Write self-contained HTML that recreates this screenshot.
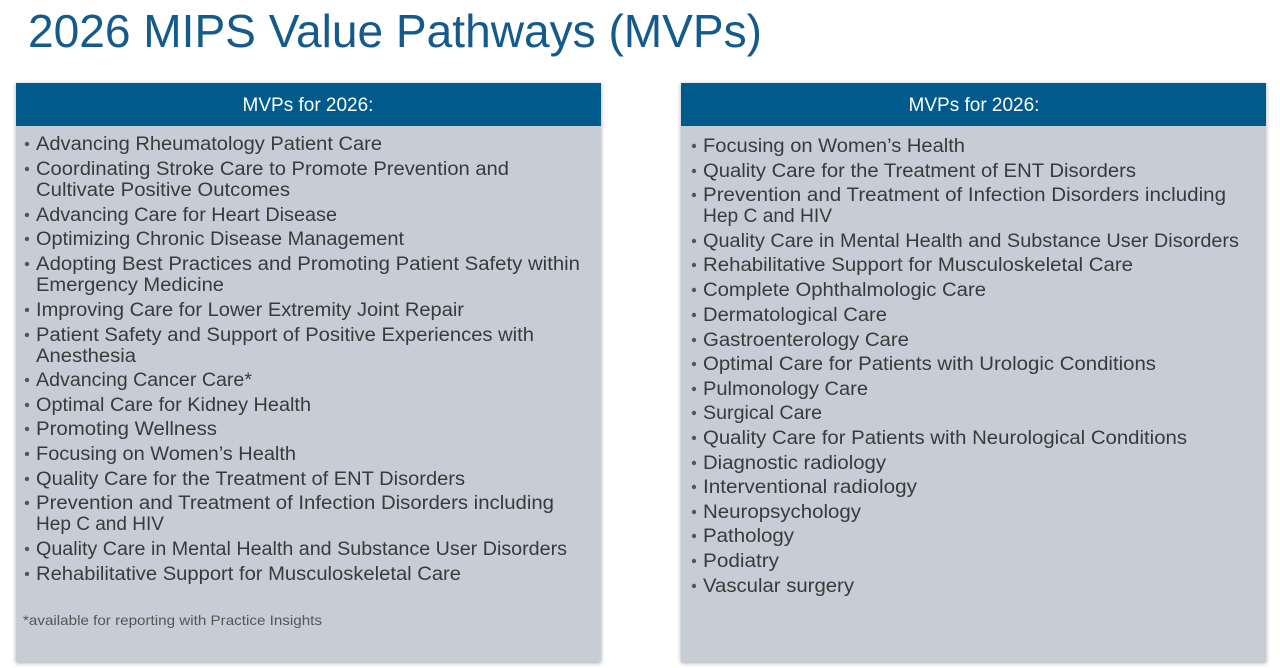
<!DOCTYPE html>
<html><head><meta charset="utf-8"><style>
html,body{margin:0;padding:0;background:#fff;width:1280px;height:668px;overflow:hidden}
svg text{font-family:"Liberation Sans",sans-serif}
</style></head><body>
<svg width="1280" height="668" viewBox="0 0 1280 668" xmlns="http://www.w3.org/2000/svg">
<defs><filter id="sh" x="-5%" y="-5%" width="110%" height="110%"><feDropShadow dx="0" dy="1" stdDeviation="2" flood-color="#000" flood-opacity="0.35"/></filter></defs>
<text x="28" y="47" font-size="46" fill="#145a8c" textLength="734" lengthAdjust="spacingAndGlyphs">2026 MIPS Value Pathways (MVPs)</text>
<rect x="16" y="83" width="585" height="579" fill="#c6cdd7" filter="url(#sh)"/>
<rect x="16" y="83" width="585" height="43" fill="#005a8c"/>
<rect x="681" y="83" width="585" height="579" fill="#c6cdd7" filter="url(#sh)"/>
<rect x="681" y="83" width="585" height="43" fill="#005a8c"/>
<text x="308" y="111" font-size="19" fill="#fff" text-anchor="middle">MVPs for 2026:</text>
<text x="974" y="111" font-size="19" fill="#fff" text-anchor="middle">MVPs for 2026:</text>
<g font-size="19" fill="#3a3a3a" lengthAdjust="spacingAndGlyphs">
<g fill="#555"><circle cx="27" cy="144" r="2.2"/><circle cx="27" cy="169" r="2.2"/><circle cx="27" cy="215" r="2.2"/><circle cx="27" cy="239" r="2.2"/><circle cx="27" cy="264" r="2.2"/><circle cx="27" cy="310" r="2.2"/><circle cx="27" cy="335" r="2.2"/><circle cx="27" cy="380" r="2.2"/><circle cx="27" cy="405" r="2.2"/><circle cx="27" cy="429" r="2.2"/><circle cx="27" cy="454" r="2.2"/><circle cx="27" cy="479" r="2.2"/><circle cx="27" cy="503" r="2.2"/><circle cx="27" cy="549" r="2.2"/><circle cx="27" cy="574" r="2.2"/>
<circle cx="694" cy="146" r="2.2"/><circle cx="694" cy="171" r="2.2"/><circle cx="694" cy="195" r="2.2"/><circle cx="694" cy="241" r="2.2"/><circle cx="694" cy="265" r="2.2"/><circle cx="694" cy="290" r="2.2"/><circle cx="694" cy="315" r="2.2"/><circle cx="694" cy="340" r="2.2"/><circle cx="694" cy="364" r="2.2"/><circle cx="694" cy="389" r="2.2"/><circle cx="694" cy="413" r="2.2"/><circle cx="694" cy="438" r="2.2"/><circle cx="694" cy="463" r="2.2"/><circle cx="694" cy="487" r="2.2"/><circle cx="694" cy="512" r="2.2"/><circle cx="694" cy="536" r="2.2"/><circle cx="694" cy="561" r="2.2"/><circle cx="694" cy="586" r="2.2"/></g>
<text x="36" y="150" textLength="346" lengthAdjust="spacingAndGlyphs">Advancing Rheumatology Patient Care</text>
<text x="36" y="175" textLength="473" lengthAdjust="spacingAndGlyphs">Coordinating Stroke Care to Promote Prevention and</text>
<text x="36" y="196" textLength="254" lengthAdjust="spacingAndGlyphs">Cultivate Positive Outcomes</text>
<text x="36" y="221" textLength="301" lengthAdjust="spacingAndGlyphs">Advancing Care for Heart Disease</text>
<text x="36" y="245" textLength="368" lengthAdjust="spacingAndGlyphs">Optimizing Chronic Disease Management</text>
<text x="36" y="270" textLength="544" lengthAdjust="spacingAndGlyphs">Adopting Best Practices and Promoting Patient Safety within</text>
<text x="36" y="291" textLength="188" lengthAdjust="spacingAndGlyphs">Emergency Medicine</text>
<text x="36" y="316" textLength="428" lengthAdjust="spacingAndGlyphs">Improving Care for Lower Extremity Joint Repair</text>
<text x="36" y="341" textLength="498" lengthAdjust="spacingAndGlyphs">Patient Safety and Support of Positive Experiences with</text>
<text x="36" y="362" textLength="100" lengthAdjust="spacingAndGlyphs">Anesthesia</text>
<text x="36" y="386" textLength="216" lengthAdjust="spacingAndGlyphs">Advancing Cancer Care*</text>
<text x="36" y="411" textLength="275" lengthAdjust="spacingAndGlyphs">Optimal Care for Kidney Health</text>
<text x="36" y="435" textLength="181" lengthAdjust="spacingAndGlyphs">Promoting Wellness</text>
<text x="36" y="460" textLength="260" lengthAdjust="spacingAndGlyphs">Focusing on Women’s Health</text>
<text x="36" y="485" textLength="429" lengthAdjust="spacingAndGlyphs">Quality Care for the Treatment of ENT Disorders</text>
<text x="36" y="509" textLength="518" lengthAdjust="spacingAndGlyphs">Prevention and Treatment of Infection Disorders including</text>
<text x="36" y="530" textLength="128" lengthAdjust="spacingAndGlyphs">Hep C and HIV</text>
<text x="36" y="555" textLength="531" lengthAdjust="spacingAndGlyphs">Quality Care in Mental Health and Substance User Disorders</text>
<text x="36" y="580" textLength="425" lengthAdjust="spacingAndGlyphs">Rehabilitative Support for Musculoskeletal Care</text>
<text x="23" y="625" font-size="14" fill="#555" textLength="299" lengthAdjust="spacingAndGlyphs">*available for reporting with Practice Insights</text>

<text x="703" y="152" textLength="262" lengthAdjust="spacingAndGlyphs">Focusing on Women’s Health</text>
<text x="703" y="177" textLength="433" lengthAdjust="spacingAndGlyphs">Quality Care for the Treatment of ENT Disorders</text>
<text x="703" y="201" textLength="523" lengthAdjust="spacingAndGlyphs">Prevention and Treatment of Infection Disorders including</text>
<text x="703" y="222" textLength="129" lengthAdjust="spacingAndGlyphs">Hep C and HIV</text>
<text x="703" y="247" textLength="536" lengthAdjust="spacingAndGlyphs">Quality Care in Mental Health and Substance User Disorders</text>
<text x="703" y="271" textLength="430" lengthAdjust="spacingAndGlyphs">Rehabilitative Support for Musculoskeletal Care</text>
<text x="703" y="296" textLength="283" lengthAdjust="spacingAndGlyphs">Complete Ophthalmologic Care</text>
<text x="703" y="321" textLength="184" lengthAdjust="spacingAndGlyphs">Dermatological Care</text>
<text x="703" y="346" textLength="206" lengthAdjust="spacingAndGlyphs">Gastroenterology Care</text>
<text x="703" y="370" textLength="453" lengthAdjust="spacingAndGlyphs">Optimal Care for Patients with Urologic Conditions</text>
<text x="703" y="395" textLength="165" lengthAdjust="spacingAndGlyphs">Pulmonology Care</text>
<text x="703" y="419" textLength="119" lengthAdjust="spacingAndGlyphs">Surgical Care</text>
<text x="703" y="444" textLength="484" lengthAdjust="spacingAndGlyphs">Quality Care for Patients with Neurological Conditions</text>
<text x="703" y="469" textLength="183" lengthAdjust="spacingAndGlyphs">Diagnostic radiology</text>
<text x="703" y="493" textLength="214" lengthAdjust="spacingAndGlyphs">Interventional radiology</text>
<text x="703" y="518" textLength="158" lengthAdjust="spacingAndGlyphs">Neuropsychology</text>
<text x="703" y="542" textLength="91" lengthAdjust="spacingAndGlyphs">Pathology</text>
<text x="703" y="567" textLength="76" lengthAdjust="spacingAndGlyphs">Podiatry</text>
<text x="703" y="592" textLength="151" lengthAdjust="spacingAndGlyphs">Vascular surgery</text>
</g>
</svg>
</body></html>
